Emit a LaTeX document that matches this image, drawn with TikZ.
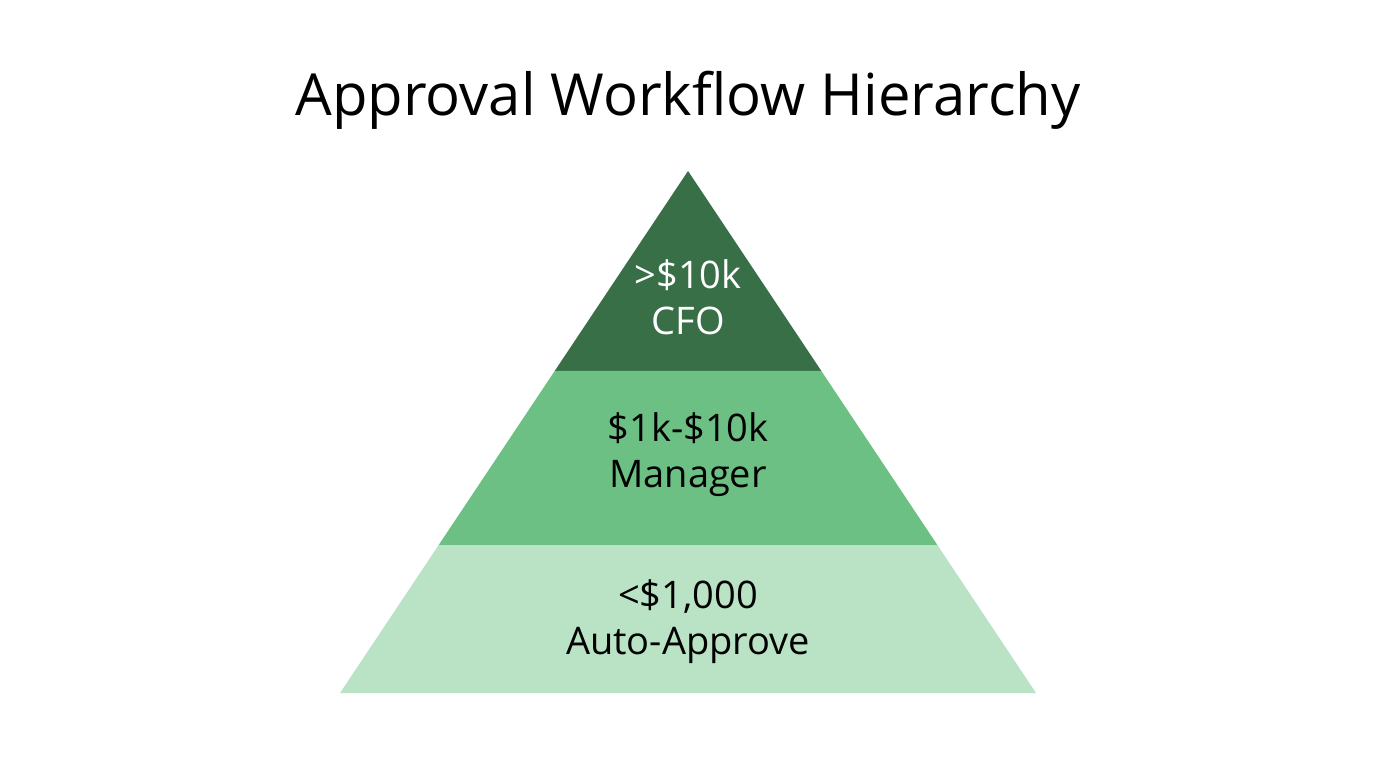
\documentclass[tikz,border=0pt]{standalone}
\usepackage{fontspec}
\setmainfont{Open Sans}
\usetikzlibrary{calc}
\definecolor{tierTop}{HTML}{386F47}
\definecolor{tierMid}{HTML}{6CC083}
\definecolor{tierLow}{HTML}{BAE3C6}
\tikzset{
  tiertext/.style={align=center,font=\fontsize{38}{46}\selectfont,inner sep=0pt},
}
\begin{document}
\begin{tikzpicture}[x=1pt,y=-1pt,line join=bevel]
%%
\useasboundingbox[fill=white] (0,0) rectangle (1376,768);
  \coordinate (apex) at (688,171);
  \coordinate (baseL) at (340,693);
  \coordinate (baseR) at (1036,693);
  \coordinate (midL) at ($(apex)!0.3831!(baseL)$);
  \coordinate (midR) at ($(apex)!0.3831!(baseR)$);
  \coordinate (lowL) at ($(apex)!0.7165!(baseL)$);
  \coordinate (lowR) at ($(apex)!0.7165!(baseR)$);
  \fill [tierTop] (apex) -- (midR) -- (midL) -- cycle;
  \fill [tierMid] (midL) -- (midR) -- (lowR) -- (lowL) -- cycle;
  \fill [tierLow] (lowL) -- (lowR) -- (baseR) -- (baseL) -- cycle;
  \node (title) at (688,100) [font=\fontsize{58}{70}\selectfont] {Approval Workflow Hierarchy};
  \node (cfo) at (688,297) [tiertext,text=white] {>\$10k\\CFO};
  \node (manager) at (688,455) [tiertext,text=black] {\$1k-\$10k\\Manager};
  \node (auto) at (688,622) [tiertext,text=black] {<\$1,000\\Auto-Approve};
%
\end{tikzpicture}
\end{document}
